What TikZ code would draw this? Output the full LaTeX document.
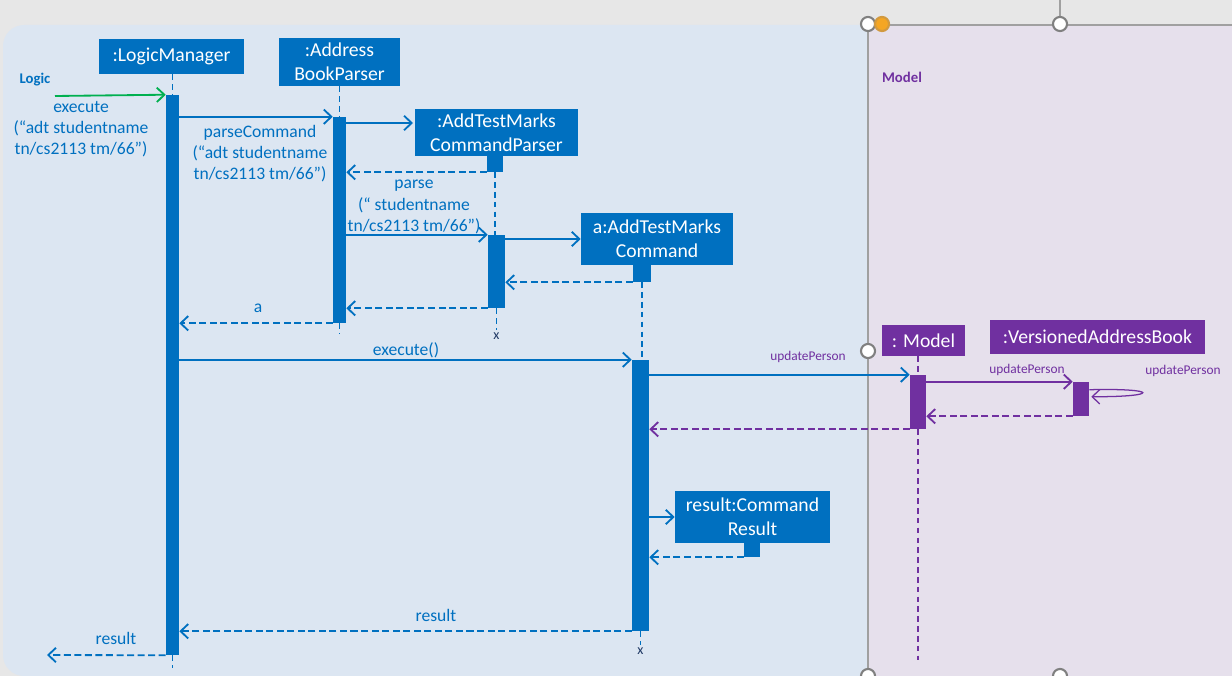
\documentclass[tikz,border=0pt]{standalone}
\usepackage{fontspec}
\setmainfont{Carlito}
\usetikzlibrary{arrows.meta}
\usetikzlibrary{positioning}
\usetikzlibrary{fit}
\definecolor{seqblue}{HTML}{0070C0}
\definecolor{seqpurple}{HTML}{7030A0}
\definecolor{seqgreen}{HTML}{00B050}
\definecolor{logicbg}{HTML}{DCE6F2}
\definecolor{modelbg}{HTML}{E6E0EC}
\definecolor{screengray}{HTML}{E7E7E7}
\definecolor{framegray}{HTML}{A0A0A0}
\definecolor{handleorange}{HTML}{F5A623}
\definecolor{xnavy}{HTML}{1F3864}
\tikzset{>={Straight Barb[length=1.9mm,width=3.6mm]}}
\tikzset{
    objb/.style={fill=seqblue, text=white, inner sep=0pt, align=center, font=\fontsize{14}{17}\selectfont},
    objp/.style={objb, fill=seqpurple},
    barb/.style={fill=seqblue, inner sep=0pt},
    barp/.style={fill=seqpurple, inner sep=0pt},
    msgb/.style={->, seqblue, line width=1.3pt},
    msgp/.style={msgb, seqpurple},
    retb/.style={msgb, dash pattern=on 5pt off 2.5pt},
    retp/.style={retb, seqpurple},
    lifeb/.style={seqblue, line width=1.2pt, dash pattern=on 4pt off 3pt},
    lifep/.style={lifeb, seqpurple},
    lbl/.style={text=seqblue, align=center, inner sep=0pt, font=\fontsize{12.5}{15}\selectfont},
    lblp/.style={text=seqpurple, inner sep=0pt, font=\fontsize{9.5}{11}\selectfont},
    xmark/.style={text=xnavy, inner sep=0pt, font=\fontsize{10}{12}\selectfont},
    handle/.style={circle, draw=gray, fill=white, line width=1.5pt, minimum size=10pt, inner sep=0pt},
}

\begin{document}
\begin{tikzpicture}[x=0.025cm,y=-0.025cm]
	\useasboundingbox (0,0) rectangle (1232,676);
	% screen, panels and frame
	\fill[screengray] (0,0) rectangle (1232,676);
	\fill[logicbg, rounded corners=15] (3,25) rectangle (885,676);
	\fill[modelbg] (868,25) rectangle (1232,676);
	\draw[framegray, line width=0.8pt] (1060,0) -- (1060,25) (868,676) -- (868,25) -- (1232,25);
	\node[handle] (h1) at (868,24) {};
	\node[handle, fill=handleorange, draw=handleorange!70!gray] (h2) at (882,24) {};
	\node[handle] (h3) at (1060,24) {};
	\node[handle] (h4) at (868,351) {};
	\node[handle] (h5) at (868,676) {};
	\node[handle] (h6) at (1060,676) {};
	\node[text=seqblue, font=\fontsize{10.5}{12}\selectfont\bfseries] (tLogic) at (35,80) {Logic};
	\node[text=seqpurple, font=\fontsize{10.5}{12}\selectfont\bfseries] (tModel) at (902,77) {Model};
	% objects
	\node[objb, minimum width=3.625cm, minimum height=0.875cm] (lm) at (171.5,56.5) {:LogicManager};
	\node[objb, minimum width=3.025cm, minimum height=1.2cm] (abp) at (339.5,62) {:Address\\BookParser};
	\node[objb, minimum width=4.075cm, minimum height=1.175cm] (pcp) at (496.5,132.5) {:AddTestMarks\\CommandParser};
	\node[objb, minimum width=0.4cm, minimum height=0.4cm] (pcpF) at (495,164) {};
	\node[objb, minimum width=3.8cm, minimum height=1.3cm] (cmd) at (657,239) {a:AddTestMarks\\Command};
	\node[objb, minimum width=0.45cm, minimum height=0.425cm] (cmdF) at (642,273.5) {};
	\node[objb, minimum width=3.875cm, minimum height=1.3cm] (res) at (752.5,517) {result:Command\\Result};
	\node[objb, minimum width=0.4cm, minimum height=0.35cm] (resF) at (752,550) {};
	\node[objp, minimum width=2.075cm, minimum height=0.775cm] (mdl) at (923.5,340.5) {: Model};
	\node[objp, minimum width=5.375cm, minimum height=0.85cm] (vab) at (1097.5,337) {:VersionedAddressBook};
	% activation bars
	\node[barb, fit={(166,95) (179,655)}] (aLM) {};
	\node[barb, fit={(333,117) (346,323)}] (aABP) {};
	\node[barb, fit={(488,235) (505,308)}] (aPCP) {};
	\node[barb, fit={(632,360) (649,631)}] (aCMD) {};
	\node[barp, fit={(910,375) (926,429)}] (aM) {};
	\node[barp, fit={(1073,382) (1089,416)}] (aV) {};
	% lifelines
	\draw[lifeb] (aLM.north |- lm.south) -- (aLM.north);
	\draw[lifeb] (aLM.south) -- ++(0,13);
	\draw[lifeb] (abp.south) -- (aABP.north);
	\draw[lifeb] (aABP.south) -- ++(0,10);
	\draw[lifeb] (pcpF.south) -- (pcpF.south |- aPCP.north);
	\draw[lifeb] (aPCP.south) -- ++(0,22) node[xmark, below=1pt] (xPCP) {x};
	\draw[lifeb] (cmdF.south) -- (cmdF.south |- aCMD.north);
	\draw[lifeb] (aCMD.south) -- ++(0,14) node[xmark, below=1pt] (xCMD) {x};
	\draw[lifep] (aM.north |- mdl.south) -- (aM.north);
	\draw[lifep] (aM.south) -- ++(0,231);
	% messages
	\coordinate (cIn) at (55,96);
	\coordinate (cOut) at (47,655);
	\coordinate (cNew) at (413,123);
	\draw[msgb, seqgreen] (cIn) -- (aLM.north west);
	\draw[msgb] (aLM.east |- aABP.north) -- (aABP.north west);
	\draw[msgb] (aABP.east |- cNew) -- (cNew);
	\draw[retb] (pcpF.south west) -- (aABP.east |- pcpF.south);
	\draw[msgb] (aABP.east |- aPCP.north) -- (aPCP.north west);
	\draw[msgb] (aPCP.east |- cmd.west) -- (cmd.west);
	\draw[retb] (cmdF.south west) -- (aPCP.east |- cmdF.south);
	\draw[retb] (aPCP.south west) -- (aABP.east |- aPCP.south);
	\draw[retb] (aABP.south west) -- (aLM.east |- aABP.south);
	\draw[msgb] (aLM.east |- aCMD.north) -- (aCMD.north west);
	\draw[msgb] (aCMD.east |- aM.north) -- (aM.north west);
	\draw[msgp] (aM.east |- aV.north) -- (aV.north west);
	\draw[msgp, line width=0.9pt] ([shift={(0,8)}]aV.north east) .. controls (1160,388) and (1160,397) .. ([shift={(2,15)}]aV.north east);
	\draw[retp] (aV.south west) -- (aM.east |- aV.south);
	\draw[retp] (aM.south west) -- (aCMD.east |- aM.south);
	\draw[msgb] (aCMD.east |- res.west) -- (res.west);
	\draw[retb] (resF.south west) -- (aCMD.east |- resF.south);
	\draw[retb] (aCMD.south west) -- (aLM.east |- aCMD.south);
	\draw[retb] (aLM.south west) -- (cOut);
	% labels
	\node[lbl] (lExec) at (81,129) {execute\\(“adt studentname\\tn/cs2113 tm/66”)};
	\node[lbl] (lParseCmd) at (260,154) {parseCommand\\(“adt studentname\\tn/cs2113 tm/66”)};
	\node[lbl] (lParse) at (414,207) {parse\\(“ studentname\\tn/cs2113 tm/66”)};
	\node[lbl] (lA) at (258,308) {a};
	\node[lbl] (lExec2) at (406,350) {execute()};
	\node[lbl] (lRes) at (436,615) {result};
	\node[lbl] (lRes2) at (116,638) {result};
	\node[lblp] (lUp1) at (808,357) {updatePerson};
	\node[lblp] (lUp2) at (1027,370) {updatePerson};
	\node[lblp] (lUp3) at (1183,371) {updatePerson};
\end{tikzpicture}
\end{document}
